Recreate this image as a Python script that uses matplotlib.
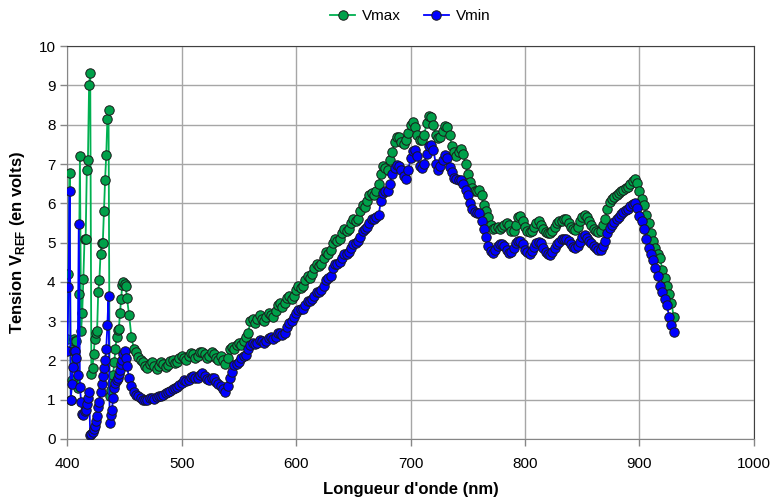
import numpy as np
import matplotlib.pyplot as plt

plt.rcParams['font.family'] = ['Liberation Sans', 'DejaVu Sans']
plt.rcParams['mathtext.fontset'] = 'custom'
plt.rcParams['mathtext.rm'] = 'Liberation Sans:bold'
plt.rcParams['mathtext.bf'] = 'Liberation Sans:bold'

# longueurs d'onde : pas de 1 nm au debut, puis 2 nm
wl_fine = np.arange(400, 452, 1)
wl_coarse = np.arange(452, 932, 2)
wavelength = np.concatenate([wl_fine, wl_coarse])

vmax_fine = [
    2.55, 4.2, 6.78, 1.0, 1.5, 2.3, 2.55, 2.5, 2.5, 1.3,
    3.7, 7.2, 2.75, 3.2, 4.08, 5.08, 5.1, 6.84, 7.1, 9.0,
    9.33, 1.65, 1.8, 2.15, 2.55, 2.7, 2.75, 3.75, 4.05, 4.7,
    5.0, 5.0, 5.8, 6.6, 7.23, 8.14, 8.37, 1.08, 1.25, 1.42,
    1.63, 1.95, 2.28, 2.6, 2.77, 2.8, 3.2, 3.55, 3.92, 3.99,
    3.95, 3.9,
]
vmax_coarse = [
    3.6, 3.15, 2.6, 2.3, 2.2, 2.09, 2.0, 1.95, 1.85, 1.8,
    1.9, 1.95, 1.85, 1.78, 1.85, 1.95, 1.9, 1.82, 1.88, 1.98,
    2.0, 1.92, 1.95, 2.05, 2.1, 2.05, 2.0, 2.1, 2.18, 2.15,
    2.05, 2.1, 2.2, 2.22, 2.15, 2.05, 2.1, 2.2, 2.15, 2.05,
    2.0, 2.1, 2.0, 1.9, 2.05, 2.3, 2.35, 2.3, 2.4, 2.45,
    2.4, 2.5, 2.6, 2.7, 3.0, 3.05, 2.95, 3.05, 3.15, 3.05,
    3.0, 3.1, 3.2, 3.15, 3.1, 3.25, 3.4, 3.45, 3.35, 3.45,
    3.6, 3.65, 3.55, 3.65, 3.8, 3.9, 3.85, 3.9, 4.05, 4.15,
    4.1, 4.2, 4.35, 4.45, 4.4, 4.45, 4.6, 4.75, 4.7, 4.8,
    5.0, 5.1, 5.05, 5.1, 5.25, 5.35, 5.3, 5.35, 5.5, 5.6,
    5.55, 5.6, 5.8, 5.95, 5.9, 6.05, 6.2, 6.25, 6.2, 6.3,
    6.5, 6.75, 6.95, 6.9, 6.85, 7.1, 7.3, 7.55, 7.7, 7.7,
    7.55, 7.5, 7.6, 7.8, 8.0, 8.07, 7.95, 7.75, 7.6, 7.6,
    7.75, 8.05, 8.22, 8.2, 8.0, 7.75, 7.65, 7.7, 7.85, 7.98,
    7.95, 7.75, 7.45, 7.3, 7.2, 7.3, 7.38, 7.25, 7.0, 6.75,
    6.55, 6.4, 6.3, 6.3, 6.35, 6.2, 5.95, 5.8, 5.65, 5.45,
    5.35, 5.38, 5.4, 5.35, 5.4, 5.45, 5.5, 5.45, 5.3, 5.3,
    5.45, 5.65, 5.68, 5.55, 5.4, 5.3, 5.27, 5.3, 5.4, 5.5,
    5.55, 5.45, 5.35, 5.28, 5.25, 5.25, 5.3, 5.4, 5.5, 5.55,
    5.55, 5.6, 5.6, 5.5, 5.4, 5.35, 5.32, 5.4, 5.55, 5.65,
    5.7, 5.65, 5.55, 5.45, 5.35, 5.3, 5.27, 5.3, 5.45, 5.6,
    5.85, 6.04, 6.1, 6.15, 6.2, 6.25, 6.3, 6.35, 6.4, 6.42,
    6.5, 6.58, 6.62, 6.52, 6.3, 6.1, 5.95, 5.7, 5.5, 5.25,
    5.05, 4.85, 4.7, 4.6, 4.3, 4.1, 3.9, 3.7, 3.45, 3.1,
]

vmin_fine = [
    2.25, 3.88, 6.3, 0.99, 1.4, 1.84, 2.25, 2.25, 2.07, 1.63,
    5.46, 1.33, 0.95, 0.63, 0.62, 0.7, 0.74, 0.9, 1.05, 1.2,
    0.1, 0.12, 0.17, 0.25, 0.32, 0.45, 0.57, 0.8, 0.95, 1.2,
    1.4, 1.6, 1.8, 2.0, 2.3, 2.9, 3.65, 0.4, 0.6, 0.74,
    1.05, 1.3, 1.42, 1.5, 1.55, 1.65, 1.75, 1.9, 2.0, 2.15,
    2.24, 2.05,
]
vmin_coarse = [
    1.85, 1.55, 1.35, 1.2, 1.12, 1.08, 1.05, 1.0, 0.99, 1.0,
    1.04, 1.05, 1.02, 1.06, 1.1, 1.1, 1.12, 1.18, 1.2, 1.22,
    1.27, 1.3, 1.33, 1.37, 1.42, 1.5, 1.48, 1.5, 1.57, 1.6,
    1.55, 1.55, 1.62, 1.67, 1.6, 1.52, 1.5, 1.55, 1.54, 1.45,
    1.4, 1.35, 1.28, 1.2, 1.35, 1.55, 1.7, 1.88, 1.9, 1.95,
    2.05, 2.1, 2.14, 2.3, 2.4, 2.45, 2.42, 2.45, 2.52, 2.5,
    2.45, 2.5, 2.58, 2.6, 2.55, 2.6, 2.7, 2.7, 2.65, 2.7,
    2.85, 2.95, 3.0, 3.1, 3.2, 3.28, 3.3, 3.3, 3.4, 3.5,
    3.5, 3.55, 3.65, 3.75, 3.75, 3.8, 3.9, 4.05, 4.1, 4.15,
    4.35, 4.45, 4.45, 4.5, 4.6, 4.7, 4.72, 4.75, 4.85, 4.95,
    5.0, 5.05, 5.15, 5.3, 5.35, 5.4, 5.5, 5.6, 5.6, 5.65,
    5.7, 6.05, 6.25, 6.3, 6.3, 6.5, 6.75, 6.9, 6.97, 6.95,
    6.85, 6.7, 6.63, 6.85, 7.15, 7.32, 7.35, 7.2, 6.95, 6.9,
    7.0, 7.25, 7.45, 7.48, 7.35, 7.0, 6.85, 6.95, 7.1, 7.23,
    7.15, 6.93, 6.8, 6.65, 6.62, 6.6, 6.6, 6.5, 6.35, 6.2,
    6.0, 5.85, 5.78, 5.75, 5.74, 5.55, 5.35, 5.15, 4.9, 4.78,
    4.73, 4.8, 4.9, 4.97, 4.97, 4.9, 4.8, 4.73, 4.75, 4.85,
    4.98, 5.05, 5.05, 4.95, 4.82, 4.75, 4.72, 4.78, 4.88, 4.98,
    5.02, 4.98, 4.85, 4.75, 4.7, 4.68, 4.75, 4.85, 4.95, 5.02,
    5.08, 5.1, 5.1, 5.05, 4.95, 4.88, 4.85, 4.9, 5.02, 5.15,
    5.19, 5.12, 5.05, 4.98, 4.9, 4.85, 4.82, 4.81, 4.9, 5.05,
    5.25, 5.36, 5.45, 5.52, 5.6, 5.66, 5.72, 5.78, 5.82, 5.86,
    5.92, 5.97, 6.0, 5.88, 5.68, 5.55, 5.35, 5.1, 4.85, 4.7,
    4.55, 4.35, 4.15, 3.9, 3.75, 3.55, 3.4, 3.1, 2.9, 2.73,
]

vmax = np.array(vmax_fine + vmax_coarse)
vmin = np.array(vmin_fine + vmin_coarse)

fig = plt.figure(figsize=(7.74, 4.97), dpi=100)
ax = fig.add_axes([0.087, 0.117, 0.887, 0.79])

ax.plot(wavelength, vmax, color='#00B050', lw=1.3, marker='o', ms=6.8,
        mfc='#00A04A', mec='#1a1a1a', mew=0.7, label='Vmax', zorder=3)
ax.plot(wavelength, vmin, color='#0000FF', lw=1.3, marker='o', ms=6.8,
        mfc='#0000FF', mec='#1a1a1a', mew=0.7, label='Vmin', zorder=4)

ax.set_xlim(400, 1000)
ax.set_ylim(0, 10)
ax.set_xticks(np.arange(400, 1001, 100))
ax.set_yticks(np.arange(0, 11, 1))
ax.grid(True, color='#A6A6A6', lw=1.0)
ax.set_axisbelow(True)

for side in ['left', 'bottom']:
    ax.spines[side].set_color('#868686')
for side in ['top', 'right']:
    ax.spines[side].set_color('#404040')
ax.tick_params(axis='both', colors='#868686', labelcolor='black',
               labelsize=11, length=5, width=1)
ax.tick_params(axis='x', pad=8)

ax.set_xlabel("Longueur d'onde (nm)", fontsize=12, fontweight='bold', labelpad=8)
ax.set_ylabel(r'Tension V$_{\mathrm{REF}}$ (en volts)', fontsize=12,
              fontweight='bold', labelpad=8)

ax.legend(loc='lower center', bbox_to_anchor=(0.5, 1.023), ncol=2,
          frameon=False, fontsize=11, handlelength=1.6, columnspacing=1.5,
          handletextpad=0.5)

fig.savefig('out.png', dpi=100)
